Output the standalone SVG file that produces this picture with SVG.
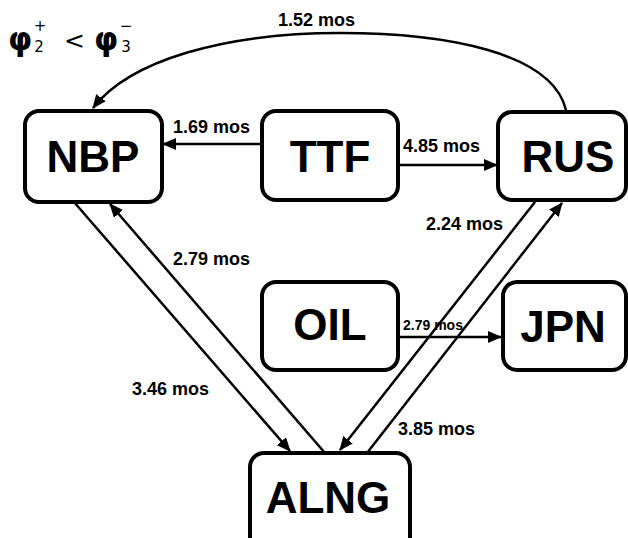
<svg xmlns="http://www.w3.org/2000/svg" width="628" height="538" viewBox="0 0 628 538">
  <style>
    .box { fill: #fff; stroke: #000; stroke-width: 4; }
    .name { font-family: "Liberation Sans", Arial, sans-serif; font-weight: bold; font-size: 44px; text-anchor: middle; fill: #000; }
    .lbl { font-family: "Liberation Sans", Arial, sans-serif; font-weight: bold; font-size: 18px; fill: #000; }
    .small { font-size: 14px; }
    .edge { fill: none; stroke: #000; stroke-width: 2.5; }
    .phi { font-family: "DejaVu Sans", sans-serif; font-weight: bold; font-size: 31px; fill: #000; }
    .idx { font-family: "DejaVu Sans", sans-serif; font-size: 15px; fill: #000; text-anchor: middle; }
    .rel { font-family: "DejaVu Sans", sans-serif; font-size: 25px; fill: #000; }
  </style>
  <defs>
    <marker id="arrow" viewBox="0 0 14 12" refX="13" refY="6" markerWidth="14" markerHeight="12" markerUnits="userSpaceOnUse" orient="auto">
      <path d="M0,0 L14,6 L0,12 Z" fill="#000"/>
    </marker>
  </defs>
  <rect width="628" height="538" fill="#fff"/>

  <!-- inequality heading -->
  <g id="heading">
    <text class="phi" x="8" y="50">φ</text>
    <text class="idx" x="39" y="52">2</text>
    <text class="idx" x="40" y="31" font-size="18">+</text>
    <text class="rel" x="64" y="49">&lt;</text>
    <text class="phi" x="94" y="50">φ</text>
    <text class="idx" x="126" y="52">3</text>
    <text class="idx" x="126" y="31" font-size="18">−</text>
  </g>

  <!-- connectors -->
  <g id="connectors">
    <path class="edge" d="M566,110 C552,52 445,33 340,33 C225,33 130,60 93,108" marker-end="url(#arrow)"/>
    <line class="edge" x1="262" y1="144" x2="163" y2="144" marker-end="url(#arrow)"/>
    <line class="edge" x1="398" y1="165" x2="497" y2="165" marker-end="url(#arrow)"/>
    <line class="edge" x1="398" y1="337" x2="501" y2="337" marker-end="url(#arrow)"/>
    <line class="edge" x1="74" y1="202" x2="290" y2="451" marker-end="url(#arrow)"/>
    <line class="edge" x1="325" y1="453" x2="110" y2="204" marker-end="url(#arrow)"/>
    <line class="edge" x1="535" y1="202" x2="340" y2="450" marker-end="url(#arrow)"/>
    <line class="edge" x1="367" y1="453" x2="562" y2="203" marker-end="url(#arrow)"/>
  </g>

  <!-- edge labels -->
  <g id="labels">
    <text class="lbl" x="278" y="26">1.52 mos</text>
    <text class="lbl" x="173" y="133">1.69 mos</text>
    <text class="lbl" x="403" y="152">4.85 mos</text>
    <text class="lbl" x="173" y="265">2.79 mos</text>
    <text class="lbl" x="426" y="230">2.24 mos</text>
    <text class="lbl small" x="403" y="330">2.79 mos</text>
    <text class="lbl" x="132" y="395">3.46 mos</text>
    <text class="lbl" x="398" y="435">3.85 mos</text>
  </g>

  <!-- nodes -->
  <g id="node-nbp">
    <rect class="box" x="25" y="111" width="137" height="91" rx="14"/>
    <text class="name" x="93" y="172">NBP</text>
  </g>
  <g id="node-ttf">
    <rect class="box" x="262" y="111" width="136" height="89" rx="14"/>
    <text class="name" x="330" y="172">TTF</text>
  </g>
  <g id="node-rus">
    <rect class="box" x="498" y="112" width="128" height="88" rx="14"/>
    <text class="name" x="568" y="172">RUS</text>
  </g>
  <g id="node-oil">
    <rect class="box" x="262" y="282" width="136" height="88" rx="14"/>
    <text class="name" x="330" y="340">OIL</text>
  </g>
  <g id="node-jpn">
    <rect class="box" x="503" y="282" width="123" height="88" rx="14"/>
    <text class="name" x="563" y="342">JPN</text>
  </g>
  <g id="node-alng">
    <rect class="box" x="250" y="453" width="160" height="110" rx="14"/>
    <text class="name" x="328" y="513">ALNG</text>
  </g>
</svg>
